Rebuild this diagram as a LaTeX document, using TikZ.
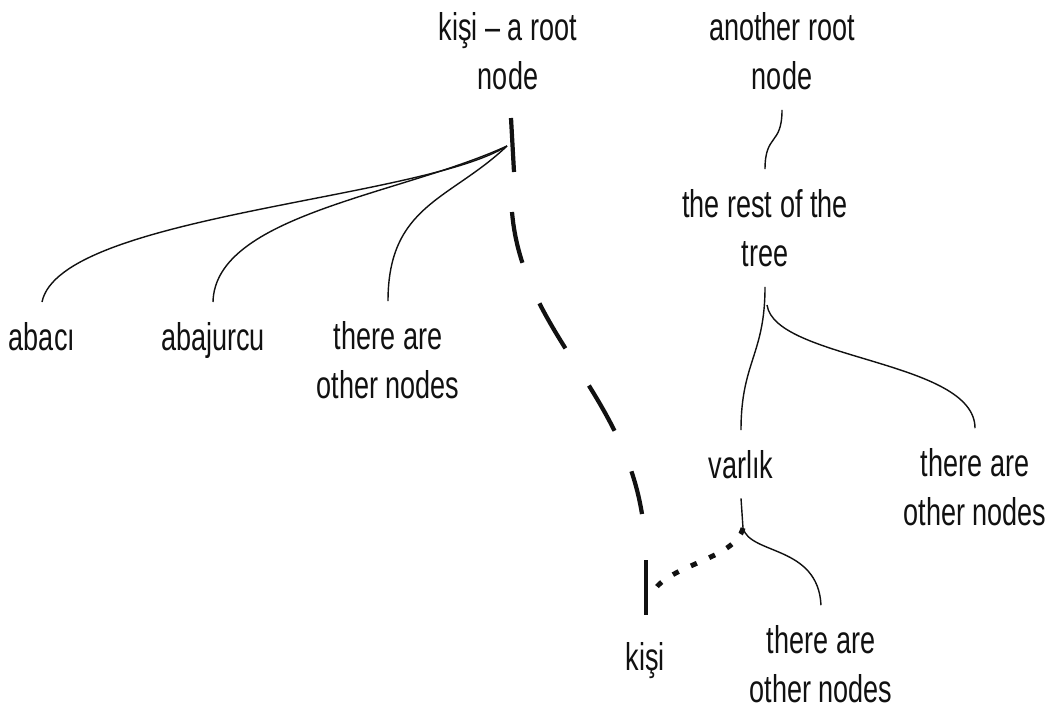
\documentclass[tikz,border=0pt]{standalone}
\usepackage{fontspec}
\setmainfont[FakeStretch=0.7]{Liberation Sans}
\usetikzlibrary{calc}
\definecolor{Ink}{HTML}{111111}
\tikzset{
  lbl/.style={inner sep=0pt,outer ysep=0.4cm,align=center,font=\fontsize{22}{28}\selectfont,text=Ink},
  edge/.style={draw=Ink,line width=0.8pt},
  heavyline/.style={draw=Ink,line width=2.4pt},
  dashlink/.style={heavyline,dash pattern=on 1.04cm off 0.88cm},
  dotlink/.style={draw=Ink,line width=2.8pt,dash pattern=on 0.13cm off 0.27cm}
}

\begin{document}
\begin{tikzpicture}[x=0.02cm,y=-0.02cm]
  \useasboundingbox (0,0) rectangle (1050,708);
  % labels
  \node[lbl] (root1) at (508,51) {kişi – a root\\node};
  \node[lbl] (root2) at (782,51) {another root\\node};
  \node[lbl] (rest) at (765,228) {the rest of the\\tree};
  \node[lbl,anchor=base] (abaci) at (42,350) {abacı};
  \node[lbl,anchor=base] (abajurcu) at (213,350) {abajurcu};
  \node[lbl] (others1) at (388,360) {there are\\other nodes};
  \node[lbl,anchor=base] (varlik) at (741,478) {varlık};
  \node[lbl] (others2) at (975,487) {there are\\other nodes};
  \node[lbl,anchor=base] (kisi) at (645,670) {kişi};
  \node[lbl] (others3) at (821,664) {there are\\other nodes};
  % joints
  \coordinate (t1a) at (511,118);
  \coordinate (t1b) at (514,172);
  \coordinate (hub1) at (507,146);
  \coordinate (hub2) at (767,305);
  \coordinate (hub3) at (743,528);
  \coordinate (dstart) at (512,212);
  \coordinate (dend) at (642,514);
  \coordinate (kt1) at (646,560);
  \coordinate (kt2) at (646,615);
  \coordinate (kdot) at (652,594);
  % first tree
  \draw[heavyline] (t1a) -- (t1b);
  \draw[edge] (hub1) .. controls (420,200) and (60,215) .. (abaci.north);
  \draw[edge] (hub1) .. controls (400,195) and (215,215) .. (abajurcu.north);
  \draw[edge] (hub1) .. controls (450,200) and (388,205) .. (others1.north);
  % second tree
  \draw[edge] (root2.south) to[out=-90,in=90,looseness=1.5] (rest.north);
  \draw[edge] (rest.south) to[out=-90,in=90,looseness=1.2] (varlik.north);
  \draw[edge] (hub2) .. controls (775,360) and (975,360) .. (others2.north);
  \draw[edge] (varlik.south) -- (hub3);
  \draw[edge] (hub3) .. controls (750,555) and (818,545) .. (others3.north);
  % links between the trees
  \draw[dashlink] (dstart) .. controls (522,330) and (622,390) .. (dend);
  \draw[heavyline] (kt1) -- (kt2);
  \draw[dotlink] (hub3) .. controls (735,560) and (665,565) .. (kdot);
\end{tikzpicture}
\end{document}
